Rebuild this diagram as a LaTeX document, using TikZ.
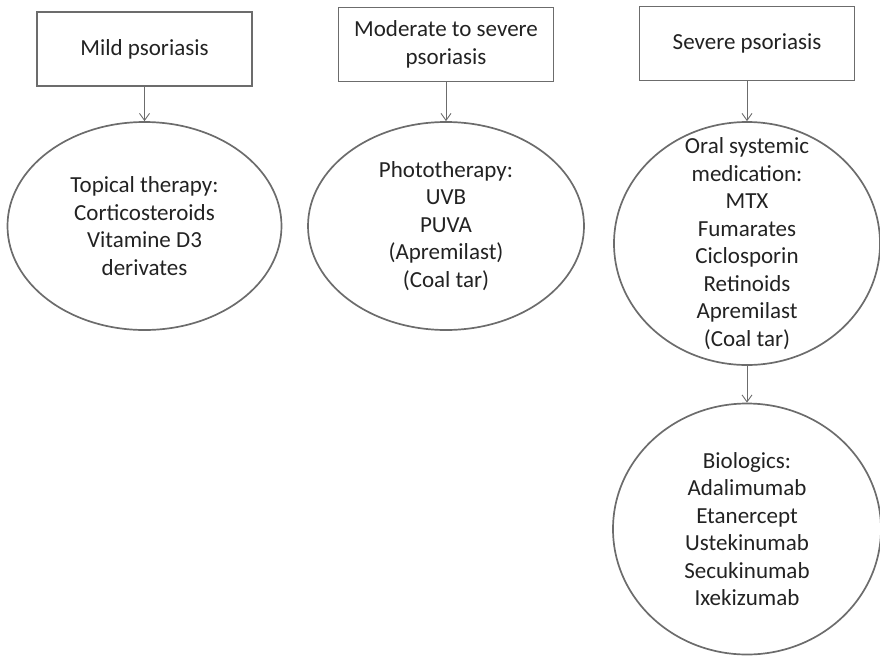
\documentclass[tikz,border=0pt]{standalone}
\usepackage{fontspec}
\setmainfont{Carlito}
\usetikzlibrary{shapes.geometric,arrows.meta}
\definecolor{linegray}{RGB}{108,108,108}
\definecolor{textgray}{RGB}{34,34,34}

\begin{document}
\begin{tikzpicture}[x=1pt, y=-1pt,
    level/.style={draw=linegray, line width=1.7pt, minimum width=215pt, minimum height=74pt, inner sep=2pt, align=center, text=textgray, font=\fontsize{23}{27.5}\selectfont},
    therapy/.style={draw=linegray, ellipse, line width=1.7pt, inner xsep=0pt, inner ysep=-40pt, align=center, text=textgray, font=\fontsize{23}{27.5}\selectfont},
    link/.style={draw=linegray, line width=0.9pt, -{Straight Barb[length=7pt,width=10pt]}}]
        \useasboundingbox (0,0) rectangle (880,656);

        \node[level] (1) at (144.5,49) {Mild psoriasis};
        \node[level] (2) at (446,44.5) {Moderate to severe\\psoriasis};
        \node[level] (3) at (747,43.5) {Severe psoriasis};

        \node[therapy, minimum width=274pt, minimum height=208pt] (4) at (144.5,226) {Topical therapy:\\Corticosteroids\\Vitamine D3\\derivates};
        \node[therapy, minimum width=276pt, minimum height=208pt] (5) at (446,226) {Phototherapy:\\UVB\\PUVA\\(Apremilast)\\(Coal tar)};
        \node[therapy, minimum width=266pt, minimum height=243pt] (6) at (747,243.5) {Oral systemic\\medication:\\MTX\\Fumarates\\Ciclosporin\\Retinoids\\Apremilast\\(Coal tar)};
        \node[therapy, minimum width=268pt, minimum height=251pt] (7) at (747,529) {Biologics:\\Adalimumab\\Etanercept\\Ustekinumab\\Secukinumab\\Ixekizumab};

        \draw[link] (1.south) -- (4.north);
        \draw[link] (2.south) -- (5.north);
        \draw[link] (3.south) -- (6.north);
        \draw[link] (6.south) -- (7.north);
    \end{tikzpicture}
\end{document}
